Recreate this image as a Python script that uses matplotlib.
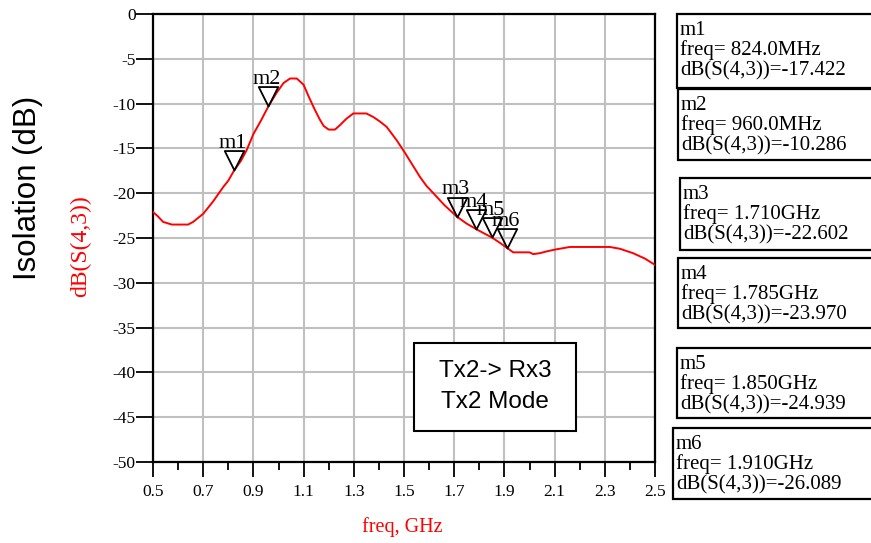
import numpy as np
import matplotlib.pyplot as plt
from matplotlib.path import Path
from matplotlib.patches import Rectangle

# curve (freq in GHz, dB)
freq = [0.50, 0.52, 0.54, 0.575, 0.64, 0.66, 0.70, 0.74, 0.78, 0.80, 0.824, 0.85, 0.873,
        0.90, 0.93, 0.96, 0.99, 1.02, 1.046, 1.073, 1.10, 1.12, 1.145, 1.165, 1.18, 1.20,
        1.225, 1.245, 1.27, 1.298, 1.35, 1.378, 1.404, 1.431, 1.471, 1.504, 1.535, 1.564,
        1.59, 1.617, 1.66, 1.71, 1.75, 1.785, 1.82, 1.85, 1.88, 1.91, 1.935, 2.0, 2.015,
        2.04, 2.068, 2.10, 2.161, 2.32, 2.36, 2.413, 2.46, 2.5]
s43 = [-22.1, -22.6, -23.2, -23.5, -23.5, -23.2, -22.3, -20.9, -19.3, -18.6, -17.42, -16.4, -15.2,
       -13.4, -11.9, -10.29, -8.9, -7.7, -7.2, -7.2, -7.9, -9.2, -10.7, -11.8, -12.5, -12.9,
       -12.9, -12.4, -11.7, -11.1, -11.1, -11.5, -12.0, -12.6, -14.1, -15.5, -16.9, -18.2,
       -19.2, -20.0, -21.3, -22.6, -23.4, -23.97, -24.5, -24.94, -25.5, -26.09, -26.6, -26.6, -26.8,
       -26.7, -26.5, -26.3, -26.0, -26.0, -26.2, -26.7, -27.3, -28.0]

# markers
mk_names = ["m1", "m2", "m3", "m4", "m5", "m6"]
mk_freq = [0.824, 0.960, 1.710, 1.785, 1.850, 1.910]
mk_db = [-17.422, -10.286, -22.602, -23.970, -24.939, -26.089]
mk_freq_txt = ["824.0MHz", "960.0MHz", "1.710GHz", "1.785GHz", "1.850GHz", "1.910GHz"]

serif = "Liberation Serif"
sans = "Liberation Sans"

fig = plt.figure(figsize=(8.71, 5.43), dpi=100)
W, H = 871, 543
ax = fig.add_axes([153 / W, 1 - 462 / H, 502 / W, 448 / H])

ax.set_xlim(0.5, 2.5)
ax.set_ylim(-50, 0)
xt = np.arange(0.5, 2.51, 0.2)
yt = np.arange(-50, 1, 5)
ax.set_xticks(xt)
ax.set_xticks(np.arange(0.6, 2.5, 0.2), minor=True)
ax.set_yticks(yt)
ax.set_xticklabels([f"{v:.1f}" for v in xt], fontfamily=serif, fontsize=12.5)
ax.set_yticklabels([f"{int(v)}" for v in yt], fontfamily=serif, fontsize=12.5)
ax.tick_params(axis="x", which="major", direction="out", length=11, width=1.3, pad=5)
ax.tick_params(axis="y", which="major", direction="out", length=12, width=1.3, pad=0.5)
ax.tick_params(axis="x", which="minor", direction="out", length=6, width=1.3)
ax.grid(True, which="major", color="#c0c0c0", linewidth=1.5)
ax.set_axisbelow(True)
for sp in ax.spines.values():
    sp.set_linewidth(1.6)

ax.plot(freq, s43, color="red", linewidth=1.4, zorder=3)

# triangle marker with apex at the data point
tri = Path([(-0.5, 1.0), (0.5, 1.0), (0.0, 0.0), (-0.5, 1.0)],
           [Path.MOVETO, Path.LINETO, Path.LINETO, Path.CLOSEPOLY])
for name, f, d in zip(mk_names, mk_freq, mk_db):
    ax.plot(f, d, marker=tri, markersize=28, markerfacecolor="none",
            markeredgecolor="black", markeredgewidth=1.3, linestyle="none", zorder=4)
    ax.annotate(name, (f, d), xytext=(-1, 16), textcoords="offset points",
                ha="center", va="baseline", fontfamily=serif, fontsize=16, zorder=5)

fig.text(402 / W, 1 - 527 / H, "freq, GHz", color="red", ha="center", va="center",
         fontfamily=serif, fontsize=14.5)
fig.text(81 / W, 1 - 246 / H, "dB(S(4,3))", color="red", rotation=90, ha="center", va="center",
         fontfamily=serif, fontsize=17)
fig.text(28 / W, 1 - 188 / H, "Isolation (dB)", rotation=90, ha="center", va="center",
         fontfamily=sans, fontsize=22.5)

# text box inside plot
ax.add_patch(Rectangle((0.52, 0.069), 0.323, 0.197, transform=ax.transAxes,
                       facecolor="white", edgecolor="black", linewidth=1.5, zorder=6))
ax.text(0.681, 0.168, "Tx2-> Rx3\nTx2 Mode", transform=ax.transAxes, ha="center", va="center",
        fontfamily=sans, fontsize=17.5, linespacing=1.55, zorder=7)

# marker readout boxes on the right
box_top = [14, 89, 178, 258, 348, 428]
box_bot = [88, 160, 250, 328, 418, 499]
box_left = [677, 678, 680, 678, 677, 673]
for i in range(6):
    x0, y0, y1 = box_left[i], box_top[i], box_bot[i]
    fig.add_artist(Rectangle((x0 / W, 1 - y1 / H), (W + 10 - x0) / W, (y1 - y0) / H,
                             transform=fig.transFigure, facecolor="white",
                             edgecolor="black", linewidth=1.6))
    txt = f"{mk_names[i]}\nfreq= {mk_freq_txt[i]}\ndB(S(4,3))={mk_db[i]:.3f}"
    fig.text((x0 + 3) / W, 1 - (y0 + 7) / H, txt, ha="left", va="top",
             fontfamily=serif, fontsize=15, linespacing=1.03)

fig.savefig("out.png", dpi=100)
